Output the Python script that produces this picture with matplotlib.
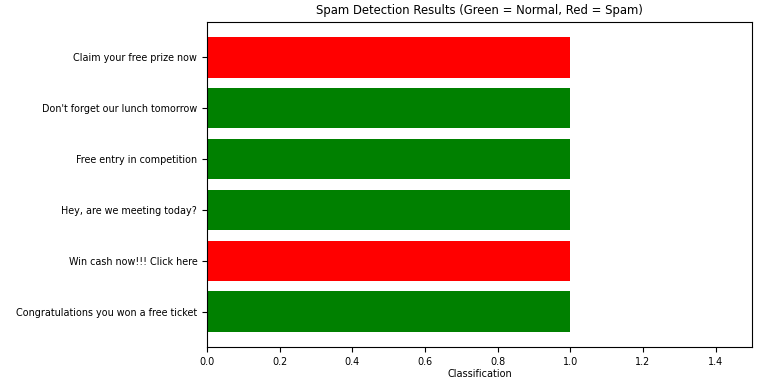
import matplotlib
matplotlib.use('Agg')
import matplotlib.pyplot as plt

# Сообщения (снизу вверх) и результат классификации
messages = [
    "Congratulations you won a free ticket",
    "Win cash now!!! Click here",
    "Hey, are we meeting today?",
    "Free entry in competition",
    "Don't forget our lunch tomorrow",
    "Claim your free prize now",
]
values = [1, 1, 1, 1, 1, 1]
is_spam = [False, True, False, False, False, True]

colors = ['red' if s else 'green' for s in is_spam]

fig = plt.figure(figsize=(7.65, 3.88), dpi=100)
ax = fig.add_axes([0.2706, 0.1057, 0.7124, 0.8376])
ax.barh(messages, values, color=colors)
ax.set_xlim(0, 1.5)
ax.set_xlabel('Classification', fontsize=7, labelpad=2)
ax.set_title('Spam Detection Results (Green = Normal, Red = Spam)', fontsize=8.4)
ax.tick_params(labelsize=6.9)

fig.savefig('out.png', dpi=100)
